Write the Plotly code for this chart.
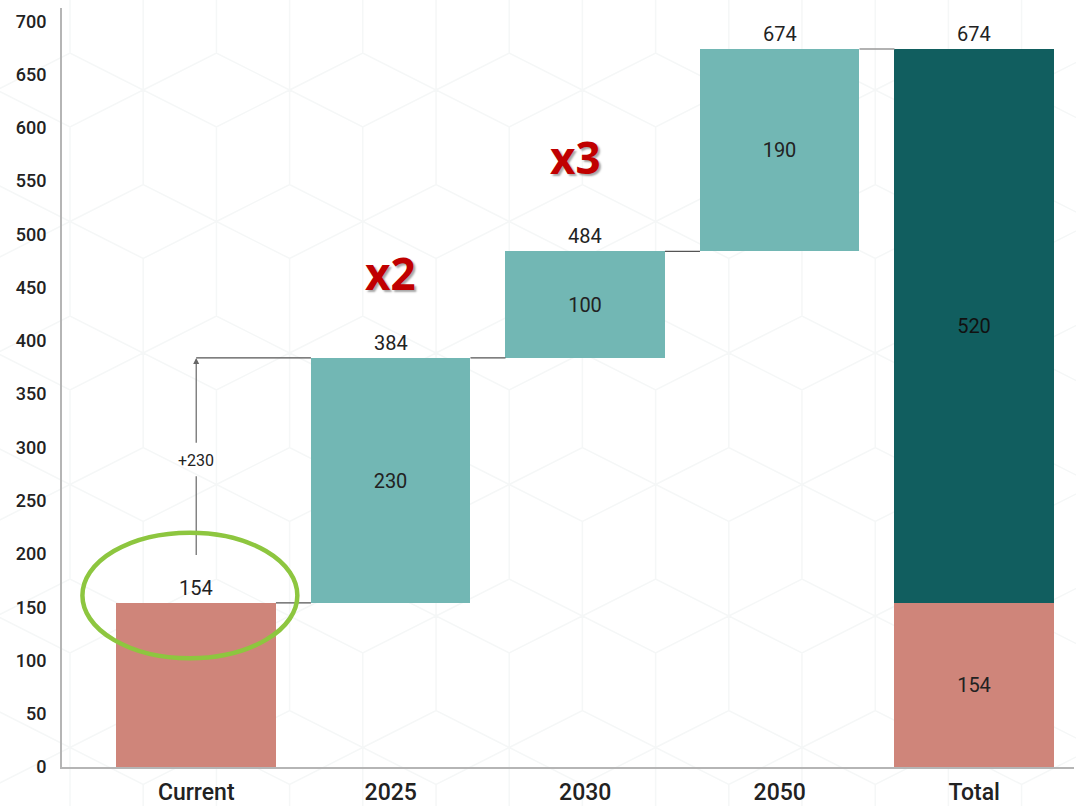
import plotly.graph_objects as go

# ---------------- data ----------------
categories = ["Current", "2025", "2030", "2050", "Total"]
current_value = 154
step_labels = ["2025", "2030", "2050"]
step_values = [230, 100, 190]
total_parts = [154, 520]          # current level + growth inside the Total bar
multiplier_texts = ["x2", "x3"]
multiplier_pos = [(1.0, 464), (1.95, 573)]   # (category index, value) of the callouts

# ---------------- derived ----------------
levels = [current_value]
for v in step_values:
    levels.append(levels[-1] + v)          # 154, 384, 484, 674
step_bases = levels[:-1]
total_value = total_parts[0] + total_parts[1]

SALMON = "#CF857A"
TEAL = "#72B7B4"
DARK = "#115E5F"
TXT = "#222222"

W, H = 1076, 806
ML, MR, MT, MB = 62, 2, 8, 39
BAR_W = 0.82

fig = go.Figure()

fig.add_trace(go.Bar(
    x=[categories[0], categories[-1]], y=[current_value, total_parts[0]], base=[0, 0],
    marker=dict(color=SALMON, line=dict(width=0)), width=BAR_W,
    text=["", str(total_parts[0])], textposition="inside", insidetextanchor="middle",
    textfont=dict(family="Roboto", size=20, color=TXT), showlegend=False, hoverinfo="skip"))

fig.add_trace(go.Bar(
    x=step_labels, y=step_values, base=step_bases,
    marker=dict(color=TEAL, line=dict(width=0)), width=BAR_W,
    text=[str(v) for v in step_values], textposition="inside", insidetextanchor="middle",
    textfont=dict(family="Roboto", size=20, color=TXT), showlegend=False, hoverinfo="skip"))

fig.add_trace(go.Bar(
    x=[categories[-1]], y=[total_parts[1]], base=[total_parts[0]],
    marker=dict(color=DARK, line=dict(width=0)), width=BAR_W,
    text=[str(total_parts[1])], textposition="inside", insidetextanchor="middle",
    textfont=dict(family="Roboto", size=20, color="#111111"), showlegend=False, hoverinfo="skip"))

annotations = []
# top labels
tops = levels + [total_value]
for i, t in enumerate(tops):
    annotations.append(dict(x=i, y=t, xref="x", yref="y", text=str(t), showarrow=False,
                            yshift=15, font=dict(family="Roboto", size=20, color=TXT)))

shapes = []
half = BAR_W / 2
# connectors
for i, lv in enumerate(levels):
    shapes.append(dict(type="line", xref="x", yref="y", x0=i + half, x1=i + 1 - half,
                       y0=lv, y1=lv, line=dict(color="#555555" if i < 3 else "#999999", width=1.3)))

# +230 arrow callout from current bar up to 2025 level
delta = levels[1] - levels[0]
shapes.append(dict(type="line", xref="x", yref="y", x0=0, x1=1 - half, y0=levels[1], y1=levels[1],
                   line=dict(color="#555555", width=1.3)))
shapes.append(dict(type="line", xref="x", yref="y", x0=0, x1=0, y0=199, y1=273,
                   line=dict(color="#666666", width=1.2)))
annotations.append(dict(x=0, y=levels[1], xref="x", yref="y", ax=0, ay=303, axref="x", ayref="y",
                        text="", showarrow=True, arrowhead=2, arrowsize=1, arrowwidth=1.2,
                        arrowcolor="#666666", standoff=0, startstandoff=0))
annotations.append(dict(x=0, y=288, xref="x", yref="y", text=f"+{delta}", showarrow=False,
                        font=dict(family="Roboto", size=16, color=TXT)))

# green ellipse highlighting the current value
shapes.append(dict(type="circle", xref="x", yref="y", x0=-0.585, x1=0.52, y0=102, y1=220,
                   line=dict(color="#8DC63F", width=4.5), layer="above"))

# multiplier callouts
for txt, (cx, cy) in zip(multiplier_texts, multiplier_pos):
    annotations.append(dict(x=cx, y=cy, xref="x", yref="y", text=f"<b>{txt}</b>", showarrow=False,
                            font=dict(family="Open Sans", size=44, color="#C00000",
                                      shadow="2px 2px 2px rgba(0,0,0,0.35)")))

# faint tumbling-blocks background pattern (decorative, pixel space -> paper space)
PW = W - ML - MR
PH = H - MT - MB
def px(X):
    return (X - ML) / PW
def py(Y):
    return (H - MB - Y) / PH

X0, DX, Y0, DY, HH = 70.0, 73.2, 90.0, 131.5, 37.0
rows = range(-1, 7)
cols = range(-2, 16)
segs = []
for r in rows:
    yc = Y0 + DY * r
    for k in cols:
        if (k - r) % 2 == 0:
            cx = X0 + DX * k
            pts = [(cx - DX, yc), (cx, yc - HH), (cx + DX, yc), (cx, yc + HH)]
            segs.append("M{:.4f},{:.4f}".format(px(pts[0][0]), py(pts[0][1])) +
                        "".join("L{:.4f},{:.4f}".format(px(a), py(b)) for a, b in pts[1:]) + "Z")
for k in cols:
    x = X0 + DX * k
    for r in rows:
        if (k - r) % 2 == 0:
            ya = Y0 + DY * r + HH
            yb = Y0 + DY * (r + 2) - HH
            segs.append("M{:.4f},{:.4f}L{:.4f},{:.4f}".format(px(x), py(ya), px(x), py(yb)))
        if r == -1 and (k - r) % 2 != 0:
            ya = Y0 + DY * (r - 1) + HH
            yb = Y0 + DY * (r + 1) - HH
            segs.append("M{:.4f},{:.4f}L{:.4f},{:.4f}".format(px(x), py(ya), px(x), py(yb)))
shapes.insert(0, dict(type="path", xref="paper", yref="paper", path="".join(segs),
                      line=dict(color="#f5f7f7", width=1.5), layer="below"))

fig.update_layout(
    width=W, height=H,
    margin=dict(l=ML, r=MR, t=MT, b=MB),
    paper_bgcolor="white", plot_bgcolor="rgba(0,0,0,0)",
    barmode="overlay", bargap=0,
    showlegend=False,
    shapes=shapes, annotations=annotations,
    font=dict(family="Roboto", color=TXT),
)
fig.update_xaxes(type="category", categoryorder="array", categoryarray=categories,
                 range=[-0.69, 4.513], showgrid=False, zeroline=False, automargin=False,
                 showline=True, linecolor="#b5b5b5", linewidth=2, ticks="",
                 ticklabelstandoff=3,
                 tickfont=dict(family="Roboto", size=23, color=TXT, weight=500))
fig.update_yaxes(range=[0, 712.5], tick0=0, dtick=50, showgrid=False, zeroline=False,
                 automargin=False,
                 showline=True, linecolor="#b5b5b5", linewidth=2, ticks="",
                 ticklabelstandoff=10,
                 tickfont=dict(family="Roboto", size=18, color=TXT, weight=500))

fig.write_html("out.html", config={"displayModeBar": False},
               post_script="document.body.style.margin='0';")
